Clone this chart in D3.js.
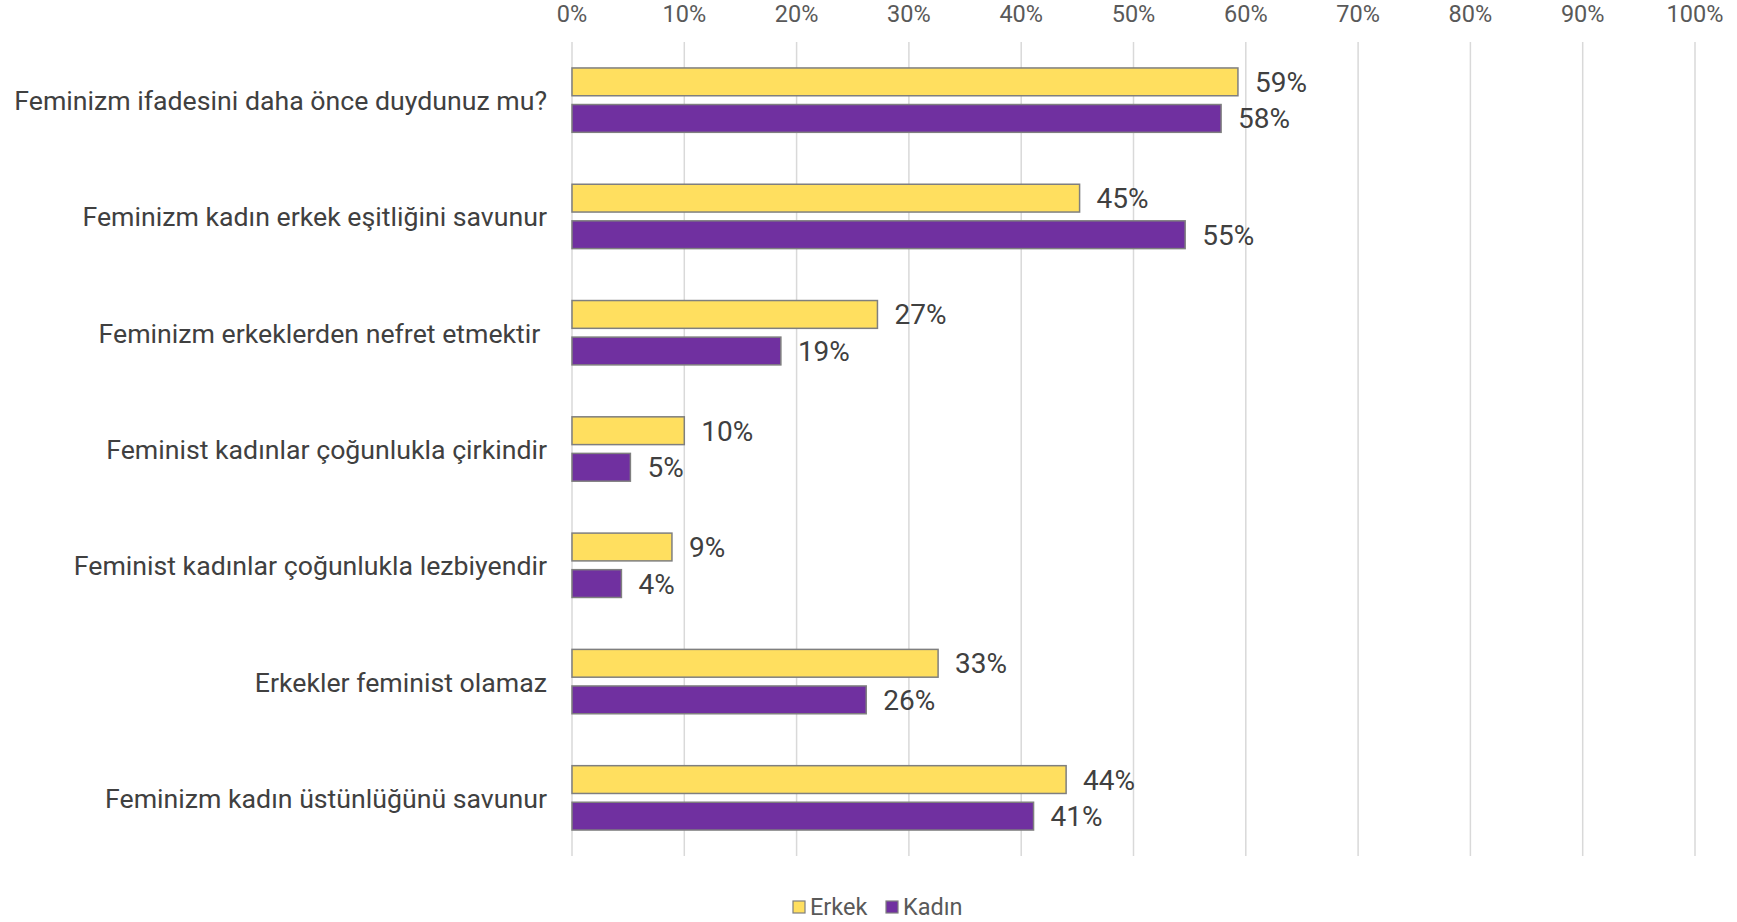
<!DOCTYPE html>
<html>
<head>
<meta charset="utf-8">
<script src="https://cdn.jsdelivr.net/npm/d3@7"></script>
<style>
  body { margin: 0; background: #fff; }
  text { font-family: Roboto, sans-serif; }
</style>
</head>
<body>
<div id="chart"></div>
<script>
// data
let questions = [
  "Feminizm ifadesini daha önce duydunuz mu?",
  "Feminizm kadın erkek eşitliğini savunur",
  "Feminizm erkeklerden nefret etmektir ",
  "Feminist kadınlar çoğunlukla çirkindir",
  "Feminist kadınlar çoğunlukla lezbiyendir",
  "Erkekler feminist olamaz",
  "Feminizm kadın üstünlüğünü savunur"
]
let seriesNames = ["Erkek", "Kadın"]
let erkek = [59.3, 45.2, 27.2, 10.0, 8.9, 32.6, 44.0]
let kadin = [57.8, 54.6, 18.6, 5.2, 4.4, 26.2, 41.1]
let ticks = [0, 10, 20, 30, 40, 50, 60, 70, 80, 90, 100]

let colors = { "Erkek": "#FFDF5F", "Kadın": "#7030A0" }

let width = 1737, height = 922
let svg = d3.select("#chart").append("svg")
  .attr("width", width)
  .attr("height", height)

let x = d3.scaleLinear().domain([0, 100]).range([572, 1695])
let y = d3.scaleBand().domain(questions).range([42, 856])
let inner = d3.scaleBand().domain(seriesNames)
  .range([0, y.bandwidth()]).paddingInner(0.24).paddingOuter(0.71)

// gridlines
svg.append("g").selectAll("line")
  .data(ticks)
  .enter().append("line")
  .attr("x1", d => x(d)).attr("x2", d => x(d))
  .attr("y1", 42).attr("y2", 856)
  .style("stroke", "#d9d9d9")
  .style("stroke-width", 1.5)

// top axis labels
svg.append("g").selectAll("text")
  .data(ticks)
  .enter().append("text")
  .attr("x", d => x(d))
  .attr("y", 22)
  .attr("text-anchor", "middle")
  .style("font-size", "23.5px")
  .style("fill", "#595959")
  .text(d => d + "%")

// category labels
svg.append("g").selectAll("text")
  .data(questions)
  .enter().append("text")
  .attr("x", 547)
  .attr("y", d => y(d) + y.bandwidth() / 2 + 10)
  .attr("text-anchor", "end")
  .attr("xml:space", "preserve")
  .style("white-space", "pre")
  .style("font-size", "26.7px")
  .style("fill", "#404040")
  .text(d => d)

let rows = questions.map((q, i) => [
  { q: q, s: "Erkek", v: erkek[i] },
  { q: q, s: "Kadın", v: kadin[i] }
]).flat()

let bars = svg.append("g")
bars.selectAll("rect")
  .data(rows)
  .enter().append("rect")
  .attr("x", x(0))
  .attr("y", d => y(d.q) + inner(d.s))
  .attr("width", d => x(d.v) - x(0))
  .attr("height", inner.bandwidth())
  .style("fill", d => colors[d.s])
  .style("stroke", "#7f7f7f")
  .style("stroke-width", 1.5)

bars.selectAll("text")
  .data(rows)
  .enter().append("text")
  .attr("x", d => x(d.v) + 17)
  .attr("y", d => y(d.q) + inner(d.s) + inner.bandwidth() / 2 + 10)
  .style("font-size", "28px")
  .style("fill", "#404040")
  .text(d => Math.round(d.v) + "%")

// legend
let legend = svg.append("g").attr("transform", "translate(793, 907)")
let items = legend.selectAll("g")
  .data(seriesNames)
  .enter().append("g")
  .attr("transform", (d, i) => "translate(" + (i * 93) + ",0)")
items.append("rect")
  .attr("x", 0).attr("y", -6)
  .attr("width", 12).attr("height", 12)
  .style("fill", d => colors[d])
  .style("stroke", "#7f7f7f")
  .style("stroke-width", 1.2)
items.append("text")
  .attr("x", 17).attr("y", 8)
  .style("font-size", "23.5px")
  .style("fill", "#595959")
  .text(d => d)
</script>
</body>
</html>
